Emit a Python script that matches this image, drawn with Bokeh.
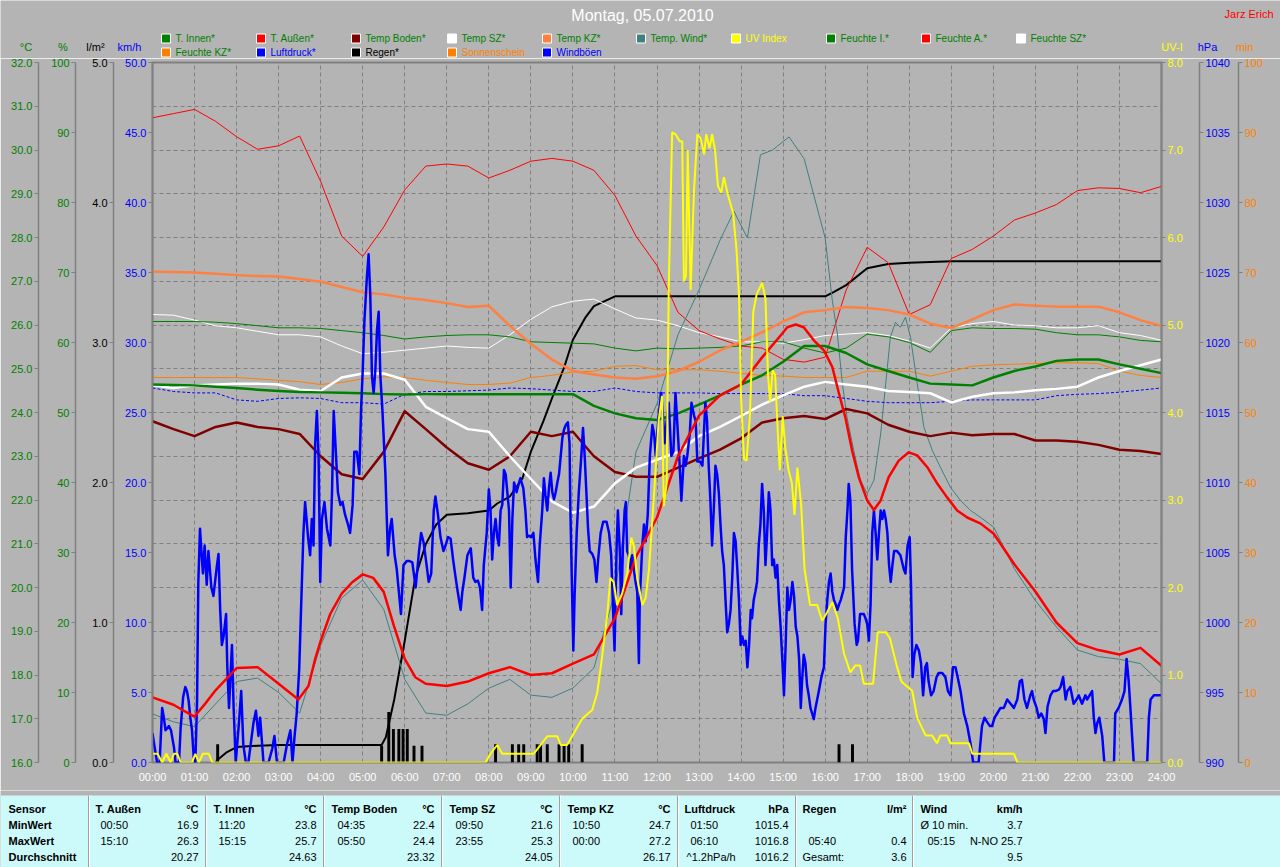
from bokeh.plotting import figure
from bokeh.models import Range1d, LinearAxis, FixedTicker, PrintfTickFormatter, CustomJSTickFormatter
from bokeh.layouts import column
from bokeh.embed import file_html
from bokeh.resources import INLINE
from bokeh.core.properties import value

FONT = "Liberation Sans"
BG = "#B4B4B4"
GRIDC = "#808080"
CYAN = "#CCFAFA"

# ---------------- data ----------------
hours = list(range(25))
t_half = [i * 0.5 for i in range(49)]

t_innen = [24.64, 24.63, 24.62, 24.59, 24.56, 24.52, 24.49, 24.47, 24.46, 24.45, 24.44, 24.42, 24.41,
           24.42, 24.42, 24.42, 24.42, 24.42, 24.42, 24.42, 24.42, 24.15, 23.98, 23.87, 23.83,
           23.98, 24.18, 24.39, 24.64, 24.85, 25.16, 25.52, 25.52, 25.36, 25.10, 24.95, 24.80,
           24.66, 24.64, 24.62, 24.80, 24.95, 25.05, 25.18, 25.21, 25.21, 25.10, 25.00, 24.90]
t_aussen_h = [0, 0.5, 0.75, 1.0, 1.25, 1.5, 2.0, 2.5, 3.0, 3.47, 3.71, 3.87, 4.0, 4.23, 4.5,
              4.75, 5.0, 5.25, 5.5, 5.75, 6.0, 6.25, 6.5, 7.0, 7.5, 8.0, 8.5, 9.0, 9.5, 10.0,
              10.5, 11.0, 11.5, 12.0, 12.5, 13.0, 13.5, 14.0, 14.5, 14.94, 15.1, 15.3, 15.49,
              15.73, 15.97, 16.17, 16.33, 16.48, 16.64, 16.8, 17.0, 17.16, 17.32, 17.51, 17.75,
              17.99, 18.19, 18.43, 18.67, 18.9, 19.14, 19.38, 19.7, 20.01, 20.5, 21.0, 21.5,
              22.0, 22.5, 23.0, 23.5, 24.0]
t_aussen = [17.49, 17.32, 17.18, 17.05, 17.34, 17.65, 18.16, 18.18, 17.80, 17.44, 17.75, 18.37,
            18.78, 19.40, 19.86, 20.12, 20.30, 20.22, 19.90, 19.10, 18.37, 17.95, 17.80, 17.75,
            17.85, 18.04, 18.18, 18.00, 18.04, 18.26, 18.47, 19.30, 20.70, 21.60, 23.00, 23.93,
            24.39, 24.64, 25.26, 25.76, 25.95, 26.01, 25.95, 25.65, 25.42, 25.04, 24.43, 23.89,
            23.13, 22.52, 21.99, 21.77, 21.99, 22.52, 22.90, 23.09, 23.02, 22.75, 22.37, 22.06,
            21.76, 21.60, 21.46, 21.23, 20.53, 19.91, 19.20, 18.73, 18.57, 18.47, 18.62, 18.21]
t_boden = [23.80, 23.62, 23.46, 23.67, 23.77, 23.67, 23.62, 23.51, 23.00, 22.59, 22.48, 23.10, 24.03,
           23.62, 23.20, 22.84, 22.69, 23.00, 23.56, 23.46, 23.56, 23.00, 22.64, 22.53, 22.53,
           22.74, 22.95, 23.15, 23.41, 23.77, 23.87, 23.92, 23.85, 24.08, 23.98, 23.72, 23.56,
           23.46, 23.54, 23.48, 23.51, 23.51, 23.36, 23.36, 23.33, 23.26, 23.15, 23.12, 23.05]
t_sz = [24.62, 24.56, 24.62, 24.64, 24.66, 24.66, 24.64, 24.52, 24.49, 24.80, 24.89, 24.89, 24.75,
        24.13, 23.87, 23.62, 23.56, 23.00, 22.48, 21.97, 21.71, 21.85, 22.38, 22.74, 22.92,
        23.10, 23.46, 23.67, 23.92, 24.18, 24.39, 24.59, 24.70, 24.64, 24.59, 24.49, 24.47,
        24.44, 24.23, 24.36, 24.44, 24.46, 24.51, 24.54, 24.59, 24.80, 24.95, 25.08, 25.21]
t_kz = [27.22, 27.21, 27.20, 27.17, 27.14, 27.12, 27.11, 27.05, 26.99, 26.87, 26.75, 26.70, 26.62,
        26.57, 26.50, 26.41, 26.44, 25.98, 25.57, 25.21, 24.95, 24.87, 24.80, 24.77, 24.83,
        24.95, 25.16, 25.42, 25.62, 25.83, 26.08, 26.29, 26.34, 26.41, 26.39, 26.34, 26.24,
        26.03, 25.93, 26.13, 26.34, 26.47, 26.44, 26.42, 26.42, 26.42, 26.29, 26.11, 25.98]

t_wind_h = [0, 0.5, 1, 1.5, 2, 2.5, 3, 3.5, 4, 4.5, 5, 5.5, 6, 6.5, 7, 7.5, 8, 8.5, 9, 9.5, 10, 10.5,
            11, 11.5, 12, 12.5, 13, 13.5, 13.83, 14.15, 14.46, 14.75, 15.14, 15.5, 16.0, 16.17,
            16.29, 16.41, 16.52, 16.68, 16.84, 17.0, 17.16, 17.32, 17.44, 17.55, 17.67, 17.79,
            17.91, 18.03, 18.19, 18.35, 18.55, 18.74, 18.98, 19.22, 19.46, 19.7, 20.01, 20.5,
            21, 21.5, 22, 22.5, 23, 23.5, 24]
t_wind = [17.11, 16.93, 16.82, 17.34, 17.85, 17.93, 17.60, 17.13, 18.68, 19.76, 20.17, 19.50, 17.90,
          17.13, 17.08, 17.34, 17.70, 17.90, 17.54, 17.49, 17.70, 18.16, 19.90, 23.10, 24.20,
          25.78, 26.80, 27.94, 28.60, 27.99, 29.89, 30.00, 30.30, 29.80, 27.99, 26.56, 25.80,
          24.66, 23.89, 23.13, 22.45, 22.15, 22.45, 23.51, 24.66, 25.72, 26.06, 25.95, 26.18,
          25.72, 24.66, 23.66, 23.13, 22.75, 22.29, 21.99, 21.76, 21.60, 21.38, 20.43, 19.70,
          19.10, 18.57, 18.42, 18.36, 18.26, 17.80]

f_aussen = [92.1, 92.7, 93.3, 91.6, 89.4, 87.6, 88.1, 89.5, 83.0, 75.2, 72.3, 76.5, 81.8,
            85.2, 85.5, 85.2, 83.5, 84.6, 85.9, 86.3, 85.9, 84.6, 81.0, 75.2, 71.0,
            64.3, 61.7, 60.5, 59.5, 59.2, 57.6, 57.2, 57.9, 67.5, 73.6, 71.4, 64.0,
            65.4, 72.0, 73.3, 75.2, 77.5, 78.5, 79.7, 81.7, 82.1, 82.0, 81.4, 82.3]
f_innen = [63.0, 63.0, 63.0, 62.9, 62.7, 62.4, 62.1, 62.1, 62.0, 61.7, 61.4, 61.0, 60.5,
           60.8, 61.0, 61.1, 61.1, 60.8, 60.1, 60.0, 59.9, 59.8, 59.2, 58.8, 59.2,
           59.1, 59.2, 59.3, 59.5, 60.1, 60.1, 59.2, 58.5, 59.2, 61.2, 60.8, 60.0,
           58.6, 61.7, 62.1, 62.0, 62.0, 61.9, 61.4, 61.1, 61.1, 60.8, 60.3, 60.1]
f_sz = [64.0, 63.9, 63.2, 62.4, 62.1, 61.6, 61.1, 61.1, 60.8, 59.5, 58.4, 58.6, 58.9,
        59.2, 59.5, 59.3, 59.2, 61.1, 63.3, 65.1, 65.9, 66.2, 64.8, 63.5, 63.2,
        62.4, 61.4, 60.8, 60.1, 60.1, 59.9, 60.4, 61.0, 61.2, 61.4, 61.0, 60.2,
        59.2, 62.1, 62.7, 63.0, 62.5, 62.4, 62.1, 62.1, 62.4, 61.4, 61.0, 60.3]
f_kz = [55.0, 55.0, 55.0, 55.0, 55.0, 54.8, 54.6, 54.4, 54.0, 54.3, 54.8, 55.1, 55.0,
        54.6, 54.3, 54.0, 54.0, 54.2, 55.0, 55.3, 55.8, 55.9, 56.6, 56.7, 56.1,
        56.1, 56.1, 55.9, 55.6, 55.3, 55.2, 55.0, 55.0, 55.0, 55.9, 55.9, 55.9,
        55.2, 55.9, 56.6, 56.8, 56.9, 57.0, 57.1, 57.1, 57.0, 55.9, 55.3, 55.0]
luftdruck = [1016.75, 1016.5, 1016.4, 1016.4, 1015.9, 1015.8, 1016.0, 1016.05, 1016.0, 1015.7,
             1015.7, 1015.6, 1016.3, 1016.5, 1016.5, 1016.55, 1016.6, 1016.75, 1016.7, 1016.6,
             1016.5, 1016.5, 1016.75, 1016.5, 1016.4, 1016.4, 1016.4, 1016.35, 1016.35, 1016.35,
             1016.35, 1016.2, 1016.2, 1016.0, 1015.8, 1015.7, 1015.7, 1015.7, 1015.8, 1015.9,
             1015.9, 1015.9, 1015.9, 1016.2, 1016.3, 1016.35, 1016.45, 1016.6, 1016.75]

regen_h = [1.5, 1.55, 1.75, 2.0, 2.5, 3.0, 5.45, 5.55, 5.75, 6.0, 6.25, 6.5, 6.75, 7.0, 7.5, 8.0,
           8.2, 8.5, 8.8, 9.0, 9.3, 9.5, 9.8, 10.0, 10.3, 10.5, 11.0, 16.0, 16.2, 16.5, 17.0,
           17.5, 18.0, 19.0, 24.0]
regen = [0.0, 0.02, 0.07, 0.11, 0.12, 0.125, 0.125, 0.18, 0.45, 0.87, 1.32, 1.56, 1.70, 1.77,
         1.78, 1.80, 1.85, 1.90, 2.03, 2.22, 2.44, 2.60, 2.83, 3.02, 3.18, 3.26, 3.33, 3.33,
         3.36, 3.41, 3.53, 3.56, 3.57, 3.58, 3.58]
regen_bar_h = [1.55, 5.45, 5.62, 5.73, 5.86, 5.96, 6.06, 6.22, 6.41, 8.16, 8.56, 8.71, 8.83,
               9.15, 9.23, 9.39, 9.67, 9.79, 9.90, 10.22, 16.33, 16.65]
regen_bar = [0.13, 0.12, 0.36, 0.24, 0.24, 0.24, 0.24, 0.12, 0.12, 0.13, 0.13, 0.13, 0.13,
             0.13, 0.13, 0.13, 0.13, 0.13, 0.13, 0.13, 0.13, 0.13]

uv_h = [0.0, 0.12, 0.23, 0.33, 0.43, 0.51, 0.59, 0.67, 0.94, 1.02, 1.10, 1.20, 1.34, 1.42, 7.92,
        8.04, 8.20, 8.32, 9.07, 9.15, 9.39, 9.63, 9.71, 9.86, 9.98, 10.10, 10.22, 10.46, 10.58,
        10.66, 10.74, 10.82, 10.89, 10.97, 11.05, 11.17, 11.29, 11.39, 11.45, 11.53, 11.65,
        11.73, 11.81, 11.89, 11.96, 12.04, 12.12, 12.16, 12.23, 12.28, 12.36, 12.44, 12.54,
        12.60, 12.64, 12.69, 12.73, 12.80, 12.88, 12.96, 13.04, 13.12, 13.17, 13.25, 13.31,
        13.38, 13.45, 13.53, 13.59, 13.69, 13.81, 13.89, 13.95, 14.00, 14.07, 14.13, 14.21,
        14.29, 14.37, 14.50, 14.58, 14.64, 14.69, 14.75, 14.81, 14.86, 14.92, 14.99, 15.05,
        15.13, 15.21, 15.27, 15.34, 15.43, 15.51, 15.64, 15.81, 15.93, 16.05, 16.17, 16.30,
        16.45, 16.60, 16.72, 16.83, 16.92, 17.14, 17.25, 17.44, 17.54, 17.70, 17.81, 17.87,
        18.07, 18.19, 18.39, 18.54, 18.66, 18.74, 18.90, 18.98, 19.42, 19.50, 20.49, 20.57, 24.0]
uv = [0.1, 0.1, 0.0, 0.1, 0.0, 0.1, 0.1, 0.0, 0.0, 0.1, 0.0, 0.1, 0.1, 0.0, 0.0,
      0.1, 0.2, 0.1, 0.1, 0.15, 0.3, 0.3, 0.2, 0.2, 0.3, 0.4, 0.5, 0.6, 0.8,
      1.08, 1.39, 1.70, 2.11, 2.06, 1.80, 1.93, 2.16, 2.57, 2.47, 2.11, 1.80,
      1.88, 2.21, 2.78, 3.29, 3.91, 4.19, 2.93, 3.19, 5.45, 7.20, 7.18, 7.10,
      7.10, 5.50, 5.56, 7.00, 5.40, 6.53, 7.18, 7.13, 6.95, 7.18, 7.02, 7.18,
      7.00, 6.59, 6.51, 6.69, 6.48, 6.28, 5.87, 5.35, 4.17, 3.47, 3.45, 3.96,
      5.15, 5.35, 5.48, 5.30, 4.43, 4.12, 4.48, 4.43, 3.91, 3.34, 3.96, 3.60,
      3.34, 3.19, 2.83, 3.37, 2.93, 2.21, 1.80, 1.80, 1.62, 1.72, 1.83, 1.65,
      1.24, 1.03, 1.11, 1.11, 0.90, 0.90, 1.49, 1.49, 1.42, 1.11, 0.93, 0.90,
      0.82, 0.51, 0.31, 0.31, 0.22, 0.31, 0.31, 0.22, 0.22, 0.1, 0.1, 0.0, 0.0]

boeen_h = [0.0, 0.05, 0.11, 0.17, 0.23, 0.27, 0.31, 0.39, 0.44, 0.51, 0.55, 0.63, 0.67, 0.73, 0.78,
           0.82, 0.86, 0.90, 0.94, 0.98, 1.02, 1.06, 1.09, 1.13, 1.17, 1.20, 1.24, 1.29, 1.33,
           1.40, 1.45, 1.53, 1.57, 1.61, 1.65, 1.69, 1.75, 1.78, 1.82, 1.89, 1.93, 1.98, 2.05,
           2.11, 2.16, 2.22, 2.28, 2.40, 2.46, 2.52, 2.56, 2.64, 2.76, 2.85, 2.90, 2.96, 3.12,
           3.20, 3.28, 3.33, 3.38, 3.43, 3.49, 3.54, 3.59, 3.63, 3.70, 3.75, 3.79, 3.83, 3.87,
           3.91, 3.95, 3.99, 4.03, 4.09, 4.15, 4.23, 4.27, 4.31, 4.35, 4.41, 4.47, 4.52, 4.58,
           4.65, 4.70, 4.76, 4.80, 4.86, 4.92, 4.96, 5.00, 5.04, 5.10, 5.14, 5.18, 5.22, 5.26,
           5.30, 5.34, 5.38, 5.42, 5.47, 5.54, 5.60, 5.65, 5.69, 5.76, 5.81, 5.85, 5.91, 5.97,
           6.05, 6.10, 6.18, 6.26, 6.34, 6.39, 6.45, 6.52, 6.57, 6.63, 6.69, 6.73, 6.79, 6.85,
           6.92, 6.97, 7.03, 7.09, 7.15, 7.21, 7.26, 7.33, 7.37, 7.42, 7.49, 7.57, 7.63, 7.68,
           7.74, 7.79, 7.84, 7.88, 7.95, 8.00, 8.04, 8.08, 8.12, 8.16, 8.20, 8.24, 8.28, 8.32,
           8.36, 8.40, 8.44, 8.48, 8.52, 8.56, 8.60, 8.66, 8.72, 8.75, 8.82, 8.87, 8.91, 8.95,
           9.01, 9.06, 9.11, 9.17, 9.21, 9.27, 9.31, 9.35, 9.39, 9.43, 9.47, 9.51, 9.55, 9.59,
           9.63, 9.67, 9.71, 9.75, 9.79, 9.83, 9.88, 9.92, 9.94, 9.98, 10.01, 10.04, 10.09,
           10.14, 10.20, 10.24, 10.28, 10.32, 10.36, 10.40, 10.46, 10.51, 10.56, 10.60, 10.66,
           10.72, 10.80, 10.86, 10.91, 10.96, 10.99, 11.04, 11.07, 11.12, 11.15, 11.19, 11.23,
           11.26, 11.29, 11.33, 11.37, 11.41, 11.45, 11.49, 11.53, 11.57, 11.59, 11.65, 11.69,
           11.73, 11.78, 11.83, 11.89, 11.93, 11.97, 12.00, 12.04, 12.10, 12.15, 12.18, 12.23,
           12.28, 12.34, 12.39, 12.44, 12.48, 12.54, 12.58, 12.64, 12.68, 12.72, 12.78, 12.82,
           12.88, 12.92, 12.96, 13.02, 13.08, 13.12, 13.15, 13.19, 13.23, 13.27, 13.31, 13.35,
           13.39, 13.43, 13.47, 13.51, 13.55, 13.59, 13.63, 13.67, 13.71, 13.75, 13.79, 13.83,
           13.87, 13.91, 13.95, 13.99, 14.03, 14.07, 14.11, 14.15, 14.19, 14.23, 14.26, 14.30,
           14.34, 14.38, 14.42, 14.46, 14.50, 14.54, 14.58, 14.62, 14.66, 14.70, 14.74, 14.78,
           14.82, 14.86, 14.90, 14.94, 14.98, 15.02, 15.06, 15.10, 15.14, 15.18, 15.22, 15.26,
           15.30, 15.34, 15.38, 15.42, 15.45, 15.49, 15.53, 15.57, 15.61, 15.65, 15.69, 15.73,
           15.77, 15.81, 15.85, 15.91, 15.97, 16.01, 16.05, 16.09, 16.13, 16.17, 16.21, 16.25,
           16.29, 16.33, 16.37, 16.45, 16.49, 16.53, 16.56, 16.60, 16.64, 16.70, 16.75, 16.78,
           16.83, 16.88, 16.92, 16.96, 17.00, 17.04, 17.08, 17.12, 17.16, 17.20, 17.24, 17.28,
           17.32, 17.36, 17.40, 17.44, 17.48, 17.52, 17.56, 17.60, 17.64, 17.71, 17.79, 17.87,
           17.91, 17.96, 18.01, 18.04, 18.08, 18.12, 18.17, 18.23, 18.28, 18.33, 18.38, 18.42,
           18.46, 18.52, 18.58, 18.65, 18.70, 18.78, 18.86, 18.92, 18.98, 19.04, 19.10, 19.15,
           19.22, 19.30, 19.38, 19.46, 19.52, 19.65, 19.73, 19.79, 19.85, 19.92, 19.97, 20.03,
           20.09, 20.17, 20.25, 20.33, 20.41, 20.49, 20.57, 20.63, 20.68, 20.74, 20.80, 20.88,
           20.92, 20.96, 21.03, 21.08, 21.14, 21.20, 21.24, 21.29, 21.36, 21.42, 21.48, 21.56,
           21.60, 21.66, 21.72, 21.76, 21.83, 21.87, 21.91, 21.98, 22.03, 22.07, 22.11, 22.15,
           22.19, 22.23, 22.29, 22.35, 22.39, 22.43, 22.47, 22.52, 22.59, 22.64, 22.87, 22.90,
           22.98, 23.06, 23.12, 23.17, 23.22, 23.26, 23.30, 23.34, 23.66, 23.70, 23.74, 23.82,
           23.94, 24.00]
boeen = [2.1, 1.1, 0.0, 0.0, 3.9, 3.2, 2.3, 2.6, 2.3, 1.1, 0.0, 0.0, 2.5, 4.7, 5.4,
         5.1, 4.4, 3.2, 2.3, 0.4, 0.0, 4.4, 12.9, 16.7, 14.8, 13.5, 15.5, 12.7, 15.1,
         12.5, 11.9, 14.0, 14.9, 10.9, 8.4, 9.0, 10.6, 6.8, 3.9, 8.4, 3.9, 0.0, 2.6,
         5.1, 1.3, 0.0, 0.0, 2.8, 3.7, 1.9, 3.2, 0.0, 0.0, 1.0, 1.9, 0.0, 0.0,
         1.3, 2.3, 0.0, 1.9, 3.5, 6.7, 11.6, 16.4, 18.6, 16.1, 14.8, 17.4, 15.5, 22.8,
         25.1, 21.9, 12.9, 17.4, 18.6, 16.7, 15.5, 19.3, 25.1, 22.8, 19.3, 18.4, 18.6, 17.7,
         17.0, 16.4, 18.4, 22.2, 22.2, 20.6, 25.1, 28.0, 31.5, 34.7, 36.3, 33.4, 27.6, 26.4,
         28.0, 30.9, 32.2, 27.6, 25.1, 20.6, 14.8, 16.7, 17.4, 14.8, 13.8, 12.5, 10.6, 14.1,
         14.4, 14.4, 14.3, 12.5, 15.1, 16.4, 15.7, 14.1, 12.9, 13.5, 18.0, 19.0, 17.7, 16.1,
         15.1, 15.5, 16.1, 16.0, 14.5, 13.2, 12.2, 10.9, 12.2, 13.2, 14.8, 15.3, 13.2, 12.9,
         13.0, 12.5, 10.9, 14.1, 16.4, 19.5, 18.0, 14.5, 16.4, 17.4, 16.1, 15.5, 18.0, 18.4,
         20.9, 20.6, 19.3, 18.0, 12.5, 17.4, 20.0, 19.3, 20.0, 20.3, 19.6, 18.0, 16.1, 16.2,
         16.1, 16.4, 14.5, 12.9, 15.5, 18.0, 20.3, 19.0, 18.0, 19.6, 20.7, 19.3, 18.8, 19.3,
         20.0, 20.6, 21.9, 23.2, 23.8, 24.1, 24.3, 22.8, 18.0, 12.2, 8.0, 11.9, 16.4,
         19.3, 21.9, 23.9, 21.9, 19.3, 16.7, 15.1, 14.9, 14.5, 12.9, 14.5, 16.4,
         17.2, 17.2, 16.4, 14.8, 10.6, 8.0, 15.5, 18.0, 14.8, 10.6, 15.5, 18.0,
         18.6, 15.1, 14.8, 13.8, 14.8, 13.8, 12.9, 12.2, 7.1, 11.6, 15.5, 17.0,
         15.8, 17.7, 21.9, 24.1, 23.5, 21.9, 23.2, 24.8, 26.4, 24.4, 22.8, 24.4,
         25.7, 21.9, 22.2, 26.4, 24.4, 21.2, 18.7, 21.9, 21.2, 21.9, 23.5, 25.7,
         24.8, 24.4, 21.5, 21.5, 21.2, 23.8, 25.7, 24.4, 21.2, 18.7, 15.5, 18.0,
         21.2, 20.6, 19.3, 17.0, 15.1, 14.1, 11.6, 9.3, 9.9, 10.9, 13.2, 16.4,
         15.8, 13.8, 11.6, 8.4, 9.0, 8.4, 8.7, 6.8, 8.4, 10.9, 10.3, 11.6,
         12.2, 12.9, 15.5, 17.0, 19.9, 18.0, 14.1, 16.4, 19.3, 18.0, 14.1, 14.5,
         13.2, 14.1, 11.6, 9.7, 7.4, 4.8, 8.4, 12.5, 10.9, 11.6, 12.9, 11.9,
         9.7, 9.0, 7.4, 3.9, 5.8, 7.7, 7.1, 5.5, 4.8, 3.9, 3.5, 3.1,
         3.9, 4.5, 5.1, 6.1, 6.8, 9.9, 11.6, 12.9, 13.5, 12.2, 11.6, 11.3,
         10.9, 11.3, 11.6, 12.5, 16.1, 18.0, 19.9, 18.7, 13.8, 9.9, 8.4, 8.7,
         10.6, 10.6, 10.6, 10.3, 9.9, 8.7, 11.3, 16.4, 18.0, 16.4, 14.5, 16.4,
         18.0, 17.4, 18.0, 17.4, 16.4, 14.1, 12.9, 14.1, 15.1, 15.1, 14.8, 13.8,
         13.5, 15.5, 16.1, 12.9, 6.1, 7.7, 8.4, 8.0, 7.1, 4.8, 6.8, 7.1,
         5.8, 4.8, 5.1, 6.1, 6.4, 6.4, 6.1, 5.1, 4.8, 6.8, 6.8, 6.1,
         5.1, 3.5, 2.6, 1.3, 0.0, 0.0, 2.6, 3.2, 2.9, 2.6, 2.6, 3.2,
         3.5, 3.9, 3.9, 4.5, 4.2, 3.9, 4.5, 5.8, 5.9, 4.5, 3.9, 4.8,
         5.1, 4.5, 3.9, 3.2, 3.5, 3.1, 2.1, 4.0, 4.8, 5.1, 5.1, 5.2,
         5.4, 6.1, 4.5, 5.1, 5.4, 4.8, 4.2, 4.5, 4.8, 4.5, 4.2, 4.5,
         4.8, 4.5, 4.8, 5.1, 3.2, 2.1, 2.8, 3.2, 1.9, 0.0, 0.0, 3.5,
         3.9, 4.5, 5.1, 7.4, 5.8, 3.9, 1.9, 0.0, 0.0, 3.2, 4.5, 4.8,
         4.8, 4.8]

# legend / labels
legend_row1 = ["T. Innen*", "T. Außen*", "Temp Boden*", "Temp SZ*", "Temp KZ*", "Temp. Wind*",
               "UV Index", "Feuchte I.*", "Feuchte A.*", "Feuchte SZ*"]
legend_row1_box = ["#008000", "#FF0000", "#800000", "#FFFFFF", "#FF8040", "#408080",
                   "#FFFF00", "#008000", "#FF0000", "#FFFFFF"]
legend_row1_txt = ["#008000"] * 6 + ["#FFFF00"] + ["#008000"] * 3
legend_row2 = ["Feuchte KZ*", "Luftdruck*", "Regen*", "Sonnenschein", "Windböen"]
legend_row2_box = ["#FF8000", "#0000FF", "#000000", "#FF8000", "#0000FF"]
legend_row2_txt = ["#008000", "#0000FF", "#000000", "#FF8000", "#0000FF"]

# table
tab_head = ["T. Außen", "T. Innen", "Temp Boden", "Temp SZ", "Temp KZ", "Luftdruck", "Regen", "Wind"]
tab_unit = ["°C", "°C", "°C", "°C", "°C", "hPa", "l/m²", "km/h"]
tab_rows = ["Sensor", "MinWert", "MaxWert", "Durchschnitt"]
min_time = ["00:50", "11:20", "04:35", "09:50", "10:50", "01:50", "", "Ø 10 min."]
min_val = ["16.9", "23.8", "22.4", "21.6", "24.7", "1015.4", "", "3.7"]
max_time = ["15:10", "15:15", "05:50", "23:55", "00:00", "06:10", "05:40", "05:15"]
max_val = ["26.3", "25.7", "24.4", "25.3", "27.2", "1016.8", "0.4", "N-NO 25.7"]
avg_text = ["", "", "", "", "", "^1.2hPa/h", "Gesamt:", ""]
avg_val = ["20.27", "24.63", "23.32", "24.05", "26.17", "1016.2", "3.6", "9.5"]

W = 1280

# ---------------- header (title, legend, units) ----------------
head = figure(width=W, height=58, x_range=Range1d(0, 1280), y_range=Range1d(58, 0),
              output_backend="svg", toolbar_location=None, min_border=0,
              x_axis_location=None, y_axis_location=None, frame_align=False,
              background_fill_color=BG, border_fill_color=BG, outline_line_color=None)
head.grid.visible = False

def htext(fig, xs, ys, texts, colors, size="11px", align="left", style="normal"):
    fig.text(x=xs, y=ys, text=texts, text_color=colors, text_font=value(FONT),
             text_font_size=size, text_align=align, text_baseline="middle", text_font_style=style)

htext(head, [642], [15], ["Montag, 05.07.2010"], ["#FFFFFF"], size="16px", align="center")
htext(head, [1273], [13], ["Jarz Erich"], ["#FF0000"], size="11px", align="right")

col_x = [161, 256, 351, 447, 542, 636, 731, 826, 921, 1016]
for labels, boxes, tcols, yy in ((legend_row1, legend_row1_box, legend_row1_txt, 38),
                                 (legend_row2, legend_row2_box, legend_row2_txt, 52)):
    n = len(labels)
    xs = col_x[:n]
    head.rect(x=[c + 4.5 for c in xs], y=[yy] * n, width=9, height=9,
              fill_color=boxes, line_color="#FFFFFF", line_width=1)
    htext(head, [c + 14 for c in xs], [yy] * n, labels, tcols, size="10px")

htext(head, [25.5, 62.5, 95, 129, 1171.5, 1207, 1244], [46] * 7,
      ["°C", "%", "l/m²", "km/h", "UV-I", "hPa", "min"],
      ["#008000", "#008000", "#000000", "#0000FF", "#FFFF00", "#0000FF", "#FF8000"],
      size="11px", align="center")

# ---------------- main chart ----------------
p = figure(width=W, height=732, x_range=Range1d(0, 24), y_range=Range1d(16, 32),
           output_backend="svg", toolbar_location=None,
           x_axis_location=None, y_axis_location=None, frame_align=False,
           min_border_left=152, min_border_right=119, min_border_top=4, min_border_bottom=28,
           background_fill_color=BG, border_fill_color=BG,
           outline_line_color=GRIDC, outline_line_width=2)
p.extra_y_ranges = {"pct": Range1d(0, 100), "rain": Range1d(0, 5), "wind": Range1d(0, 50),
                    "uv": Range1d(0, 8), "hpa": Range1d(990, 1040), "min": Range1d(0, 100)}

p.xgrid.ticker = FixedTicker(ticks=hours)
p.ygrid.ticker = FixedTicker(ticks=list(range(16, 33)))
for g in (p.xgrid, p.ygrid):
    g.grid_line_color = GRIDC
    g.grid_line_dash = "4 3"
    g.grid_line_width = 1

def yaxis(rng, ticks, fmt, color, pad, side):
    ax = LinearAxis(y_range_name=rng, ticker=FixedTicker(ticks=ticks),
                    formatter=PrintfTickFormatter(format=fmt))
    ax.major_label_text_color = color
    ax.major_label_text_font = FONT
    ax.major_label_text_font_size = "11px"
    ax.major_tick_out = 4
    ax.major_tick_in = 0
    ax.minor_tick_out = 0
    ax.minor_tick_in = 0
    ax.major_tick_line_color = GRIDC
    ax.axis_line_color = GRIDC
    ax.axis_line_width = 1.5
    ax.major_label_standoff = 2
    if pad is not None:
        ax.axis_label = " "
        ax.axis_label_text_font_size = "1px"
        ax.axis_label_standoff = pad
    p.add_layout(ax, side)

yaxis("wind", [0, 5, 10, 15, 20, 25, 30, 35, 40, 45, 50], "%.1f", "#0000FF", 4, "left")
yaxis("rain", [0, 1, 2, 3, 4, 5], "%.1f", "#000000", 10, "left")
yaxis("pct", list(range(0, 101, 10)), "%d", "#008000", 6, "left")
yaxis("default", list(range(16, 33)), "%.1f", "#008000", None, "left")
yaxis("uv", list(range(0, 9)), "%.1f", "#FFFF00", 10, "right")
yaxis("hpa", list(range(990, 1041, 5)), "%d", "#0000FF", 1, "right")
yaxis("min", list(range(0, 101, 10)), "%d", "#FF8000", None, "right")

xa = LinearAxis(ticker=FixedTicker(ticks=hours),
                formatter=CustomJSTickFormatter(code="return (tick < 10 ? '0' : '') + tick + ':00';"))
xa.major_label_text_color = "#FFFFFF"
xa.major_label_text_font = FONT
xa.major_label_text_font_size = "11px"
xa.major_tick_out = 0
xa.major_tick_in = 0
xa.minor_tick_out = 0
xa.minor_tick_in = 0
xa.axis_line_color = None
xa.major_label_standoff = 8
p.add_layout(xa, "below")

# rain
p.vbar(x=regen_bar_h, top=regen_bar, bottom=0, width=0.07, y_range_name="rain",
       fill_color="#000000", line_color=None)
p.line(regen_h, regen, y_range_name="rain", line_color="#000000", line_width=2)

# thin lines
p.line(t_half, f_kz, y_range_name="pct", line_color="#FF8000", line_width=1)
p.line(t_half, f_sz, y_range_name="pct", line_color="#FFFFFF", line_width=1)
p.line(t_half, f_innen, y_range_name="pct", line_color="#008000", line_width=1)
p.line(t_half, f_aussen, y_range_name="pct", line_color="#FF0000", line_width=1)
p.line(t_wind_h, t_wind, line_color="#408080", line_width=1)
p.line(t_half, luftdruck, y_range_name="hpa", line_color="#0000FF", line_width=1, line_dash="3 2")

# thick temperature lines
p.line(t_half, t_boden, line_color="#800000", line_width=2.5, line_join="round")
p.line(t_half, t_kz, line_color="#FF8040", line_width=2.5, line_join="round")
p.line(t_half, t_sz, line_color="#FFFFFF", line_width=2.5, line_join="round")
p.line(t_half, t_innen, line_color="#008000", line_width=2.5, line_join="round")

# wind gusts
p.line(boeen_h, boeen, y_range_name="wind", line_color="#0000FF", line_width=2.5, line_join="round")

p.line(t_aussen_h, t_aussen, line_color="#FF0000", line_width=2.5, line_join="round")

# UV
p.line(uv_h, uv, y_range_name="uv", line_color="#FFFF00", line_width=2)

# ---------------- table ----------------
tab = figure(width=W, height=77, x_range=Range1d(0, 1280), y_range=Range1d(867, 790),
             output_backend="svg", toolbar_location=None, min_border=0,
             x_axis_location=None, y_axis_location=None, frame_align=False,
             background_fill_color=BG, border_fill_color=BG, outline_line_color=None)
tab.grid.visible = False
tab.quad(left=[0], right=[1280], top=[795], bottom=[870], fill_color=CYAN, line_color=None)
sep_x = [88, 205, 323, 441, 559, 677, 795, 912]
tab.segment(x0=sep_x, y0=[795] * 8, x1=sep_x, y1=[870] * 8, line_color="#A0A0A0", line_width=1)
tab.segment(x0=[s + 1 for s in sep_x], y0=[795] * 8, x1=[s + 1 for s in sep_x], y1=[870] * 8,
            line_color="#FFFFFF", line_width=1)

row_y = [808, 824, 840, 856]
left_x = [95, 213, 331, 449, 567, 684, 802, 920]
right_x = [198, 316, 434, 552, 670, 788, 906, 1022]
time_x = [100, 218, 337, 455, 572, 690, 808, 927]
htext(tab, [8] * 4, row_y, tab_rows, ["#000000"] * 4, style="bold")
htext(tab, left_x, [row_y[0]] * 8, tab_head, ["#000000"] * 8, style="bold")
htext(tab, right_x, [row_y[0]] * 8, tab_unit, ["#000000"] * 8, align="right", style="bold")
min_tx = [920 if t.startswith("Ø") else x for t, x in zip(min_time, time_x)]
htext(tab, min_tx, [row_y[1]] * 8, min_time, ["#000000"] * 8)
htext(tab, right_x, [row_y[1]] * 8, min_val, ["#000000"] * 8, align="right")
htext(tab, time_x, [row_y[2]] * 8, max_time, ["#000000"] * 8)
htext(tab, right_x, [row_y[2]] * 8, max_val, ["#000000"] * 8, align="right")
htext(tab, [686 if i == 5 else 802 for i in range(8)], [row_y[3]] * 8, avg_text, ["#000000"] * 8)
htext(tab, right_x, [row_y[3]] * 8, avg_val, ["#000000"] * 8, align="right")

layout = column(head, p, tab, spacing=0)
open("out.html", "w").write(file_html(layout, INLINE))
